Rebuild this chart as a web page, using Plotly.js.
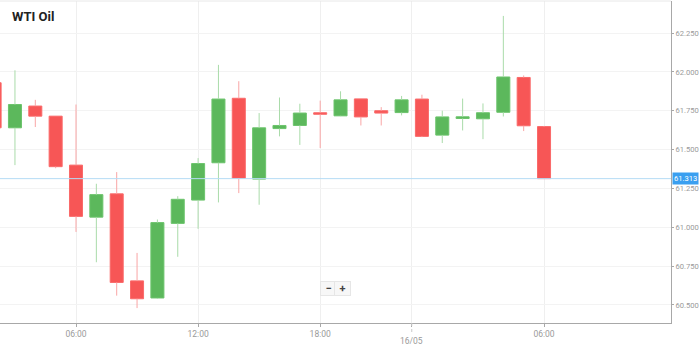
<!DOCTYPE html>
<html>
<head>
<meta charset="utf-8">
<script src="https://cdn.plot.ly/plotly-3.0.1.min.js"></script>
<style>html,body{margin:0;padding:0;background:#fff;}#chart{width:699px;height:347px;}</style>
</head>
<body>
<div id="chart"></div>
<script>
// Hourly candles, WTI Oil
const times = ["15/05 02:00","15/05 03:00","15/05 04:00","15/05 05:00","15/05 06:00","15/05 07:00","15/05 08:00","15/05 09:00","15/05 10:00","15/05 11:00","15/05 12:00","15/05 13:00","15/05 14:00","15/05 15:00","15/05 16:00","15/05 17:00","15/05 18:00","15/05 19:00","15/05 20:00","15/05 22:00","15/05 23:00","16/05 00:00","16/05 01:00","16/05 02:00","16/05 03:00","16/05 04:00","16/05 05:00","16/05 06:00"];
const open  = [61.93,61.64,61.78,61.715,61.40,61.065,61.215,60.655,60.545,61.025,61.175,61.415,61.83,61.31,61.635,61.655,61.737,61.717,61.826,61.75,61.738,61.825,61.593,61.70,61.698,61.74,61.964,61.648];
const high  = [61.95,62.01,61.82,61.715,61.79,61.28,61.355,60.835,61.05,61.20,61.445,62.045,61.94,61.735,61.835,61.795,61.815,61.875,61.83,61.773,61.845,61.853,61.75,61.828,61.797,62.36,61.977,61.652];
const low   = [61.62,61.40,61.645,61.38,60.97,60.775,60.56,60.48,60.54,60.81,60.99,61.16,61.22,61.145,61.585,61.53,61.51,61.715,61.655,61.655,61.72,61.58,61.542,61.623,61.567,61.713,61.619,61.313];
const close = [61.64,61.79,61.715,61.39,61.07,61.21,60.645,60.54,61.03,61.18,61.41,61.825,61.315,61.64,61.655,61.735,61.727,61.82,61.71,61.735,61.82,61.585,61.71,61.711,61.737,61.967,61.653,61.313];
const lastPrice = 61.313;
const yTicks = [60.5,60.75,61.0,61.25,61.5,61.75,62.0,62.25];
const title = "WTI Oil";

const UP = "#5cb85c", UP_LINE = "#6cc46c", UP_WICK = "#a9dba9";
const DN = "#f75656", DN_LINE = "#fa6a6a", DN_WICK = "#f9a5a5";

const idx = times.map((t,i)=>i);
function bodies(isUp){
  const xs=[],base=[],h=[];
  idx.forEach(i=>{
    if((close[i]>=open[i])===isUp){
      xs.push(i);
      base.push(Math.min(open[i],close[i]));
      h.push(Math.max(Math.abs(close[i]-open[i]),0.01));
    }
  });
  return {xs,base,h};
}
function wicks(isUp){
  const xs=[],ys=[];
  idx.forEach(i=>{
    if((close[i]>=open[i])===isUp){
      const top=Math.max(open[i],close[i]), bot=Math.min(open[i],close[i]);
      xs.push(i,i,null,i,i,null);
      ys.push(high[i],top,null,bot,low[i],null);
    }
  });
  return {xs,ys};
}
const bu=bodies(true), bd=bodies(false), wu=wicks(true), wd=wicks(false);

const traces=[
  {type:'bar',x:bu.xs,y:bu.h,base:bu.base,width:0.64,marker:{color:UP,line:{color:UP_LINE,width:1}},hoverinfo:'skip'},
  {type:'bar',x:bd.xs,y:bd.h,base:bd.base,width:0.64,marker:{color:DN,line:{color:DN_LINE,width:1}},hoverinfo:'skip'},
  {type:'scatter',mode:'lines',x:wu.xs,y:wu.ys,line:{color:UP_WICK,width:1},connectgaps:false,hoverinfo:'skip'},
  {type:'scatter',mode:'lines',x:wd.xs,y:wd.ys,line:{color:DN_WICK,width:1},connectgaps:false,hoverinfo:'skip'}
];

// x ticks derived from the times
const tickvals=[],ticktext=[];
let dayPos=null, dayLabel='';
times.forEach((t,i)=>{
  const [d,hm]=t.split(' ');
  const hr=parseInt(hm);
  if(hr===0){dayPos=i-0.5; dayLabel=d;}
  else if(hr%6===0){tickvals.push(i);ticktext.push(hm);}
});
tickvals.push(dayPos); ticktext.push('');

const xFont={family:'Roboto, sans-serif',size:8.5,color:'#9a9a9a'};
const yFont={family:'Roboto, sans-serif',size:7.6,color:'#9a9a9a'};
const layout={
  width:699,height:347,
  margin:{l:0,r:28,t:1,b:24},
  paper_bgcolor:'#fff',plot_bgcolor:'#fff',
  showlegend:false,barmode:'overlay',
  title:{text:'<b>'+title+'</b>',x:12/699,xanchor:'left',y:1-16/347,yanchor:'middle',font:{family:'Roboto, sans-serif',size:13,color:'#222'}},
  xaxis:{range:[0.265,33.24],tickvals:tickvals,ticktext:ticktext,tickfont:xFont,
    showgrid:true,gridcolor:'#efefef',gridwidth:1,zeroline:false,
    showline:true,linecolor:'#a8a8a8',linewidth:1,ticks:'outside',ticklen:3,tickcolor:'#a8a8a8',fixedrange:true},
  yaxis:{side:'right',range:[60.384,62.456],tickvals:yTicks,ticktext:yTicks.map(v=>v.toFixed(3)),tickfont:yFont,
    showgrid:true,gridcolor:'#f3f3f3',gridwidth:1,zeroline:false,ticklabelstandoff:0,
    showline:true,linecolor:'#a8a8a8',linewidth:1,ticks:'outside',ticklen:2,tickcolor:'#a8a8a8',fixedrange:true},
  shapes:[
    {type:'line',xref:'paper',yref:'paper',x0:0,x1:1,y0:1,y1:1,line:{color:'#e8e8e8',width:1}},
    {type:'line',xref:'paper',yref:'y',x0:0,x1:1,y0:lastPrice,y1:lastPrice,line:{color:'#b5dcf5',width:1}},
    {type:'line',xref:'x',yref:'paper',x0:dayPos,x1:dayPos,y0:0,y1:-0.03,line:{color:'#c8c8c8',width:1,dash:'dot'}}
  ],
  annotations:[
    {xref:'paper',yref:'y',x:1,y:lastPrice,xanchor:'left',yanchor:'middle',xshift:1,text:lastPrice.toFixed(3),showarrow:false,
      font:{family:'Roboto, sans-serif',size:7.6,color:'#fff'},bgcolor:'#3a9ff0',borderpad:1},
    {xref:'x',yref:'paper',x:dayPos,y:-0.056,yanchor:'middle',text:dayLabel,showarrow:false,font:xFont},
    {xref:'paper',yref:'paper',x:328/671,y:(323-296)/322,text:'<b>−</b>',showarrow:false,font:{family:'Roboto, sans-serif',size:11,color:'#444'},
      bgcolor:'#f7f7f7',bordercolor:'#e6e6e6',borderwidth:1,borderpad:1,width:13,height:11},
    {xref:'paper',yref:'paper',x:343/671,y:(323-296)/322,text:'<b>+</b>',showarrow:false,font:{family:'Roboto, sans-serif',size:11,color:'#444'},
      bgcolor:'#f7f7f7',bordercolor:'#e6e6e6',borderwidth:1,borderpad:1,width:13,height:11}
  ]
};
Plotly.newPlot('chart',traces,layout,{displayModeBar:false,staticPlot:true});
</script>
</body>
</html>
